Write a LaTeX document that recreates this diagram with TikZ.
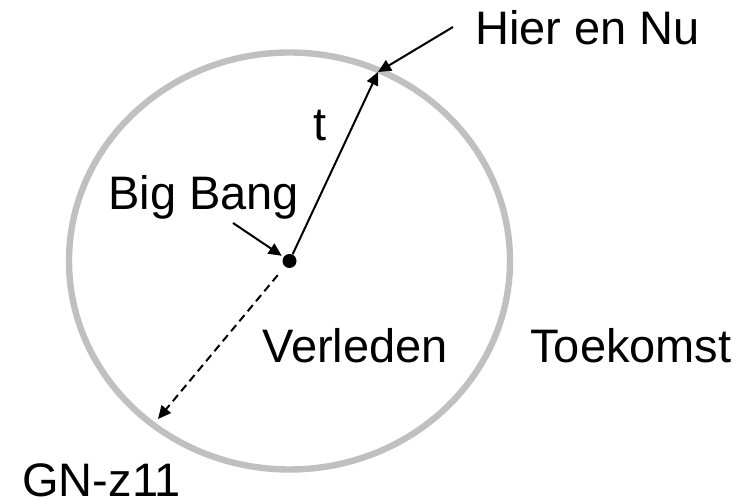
\documentclass[tikz,border=0pt]{standalone}
\usepackage{fontspec}
\setmainfont{Liberation Sans}
\usetikzlibrary{arrows.meta}

\definecolor{grijs}{RGB}{192,192,192}
\tikzset{
    label text/.style={anchor=base west, inner sep=0pt, font=\fontsize{23.5}{28}\selectfont},
    pijl/.style={line width=1pt, -{Triangle[length=6.5pt, width=6pt]}},
    heelal/.style={line width=3.2pt, color=grijs}
}

\begin{document}
\begin{tikzpicture}[x=0.5pt, y=-0.5pt]
    \useasboundingbox (0,0) rectangle (750,501);

    % Coordinate dei punti (pixel, y verso il basso)
    \coordinate (C)   at (289.5, 261);
    \coordinate (nu)  at (378, 72);
    \coordinate (hn)  at (453, 27);
    \coordinate (bb)  at (233, 223);
    \coordinate (gn)  at (158, 419);

    % --- Heelal (ellisse grigia) ---
    \draw[heelal] (C) ellipse [x radius=220.5, y radius=208.5];

    % --- Big Bang (punto centrale) ---
    \node[circle, fill=black, inner sep=0pt, minimum size=7pt] (bang) at (C) {};

    % --- Frecce ---
    \draw[pijl] (bang) -- (nu);
    \draw[pijl] (hn) -- (nu);
    \draw[pijl, shorten >=1pt] (bb) -- (bang);
    \draw[pijl, dash pattern=on 4pt off 2.5pt, shorten <=5.5pt] (bang) -- (gn);

    % --- Etichette ---
    \node[label text] (hier)  at (475, 45)  {Hier en Nu};
    \node[label text] (tijd)  at (313, 141) {t};
    \node[label text] (bbtxt) at (108, 210) {Big Bang};
    \node[label text] (verl)  at (262, 363) {Verleden};
    \node[label text] (toek)  at (530, 363) {Toekomst};
    \node[label text] (gnz)   at (22, 497)  {GN-z11};

\end{tikzpicture}
\end{document}
